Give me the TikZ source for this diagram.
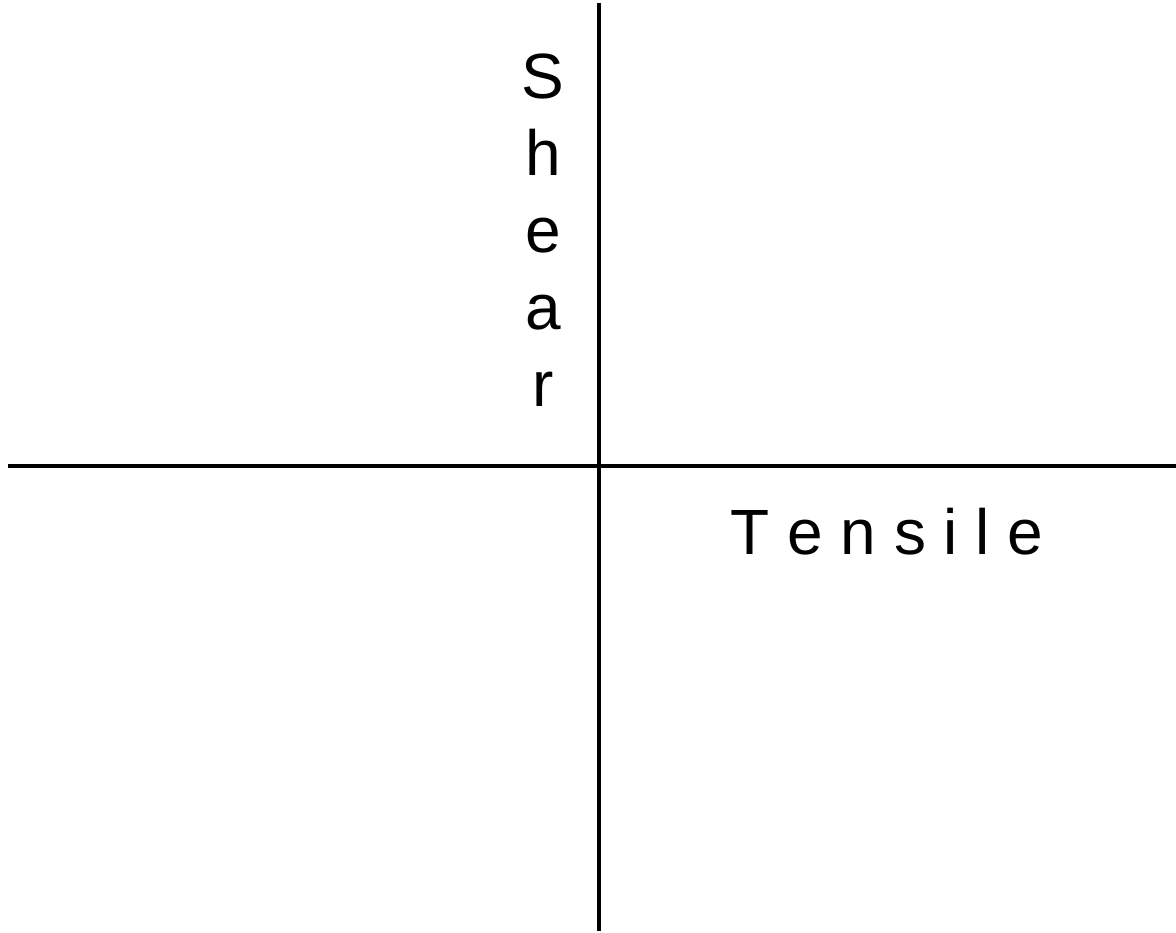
\documentclass[tikz,border=0pt]{standalone}
\usepackage{fontspec}
\setmainfont{Liberation Sans}
\tikzset{every node/.style={font=\fontsize{36.4}{43.7}\selectfont,inner sep=0pt},
 axisline/.style={draw=black,line width=2.2pt},
 lbl/.style={anchor=base,text=black}}

\begin{document}
\begin{tikzpicture}

\path[use as bounding box] (0,0) rectangle (23.52,-18.66);
\coordinate (top) at (11.98,-.06);
\coordinate (bot) at (11.98,-18.62);
\coordinate (left) at (.16,-9.32);
\coordinate (right) at (23.52,-9.32);
\draw[axisline] (top)--(bot);
\draw[axisline] (left)--(right);
\foreach \l [count=\i] in {S,h,e,a,r}{\node[lbl] (shear\i) at (10.86,{-1.98-(\i-1)*1.54}) {\l};}
\node[lbl] (tensile) at (17.74,-11.10) {T e n s i l e};

\end{tikzpicture}
\end{document}
